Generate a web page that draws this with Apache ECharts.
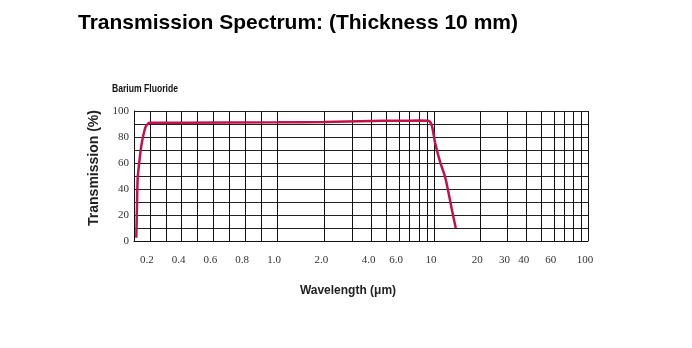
<!DOCTYPE html>
<html>
<head>
<meta charset="utf-8">
<script src="https://cdn.jsdelivr.net/npm/echarts@6/dist/echarts.min.js"></script>
<style>
  html, body { margin: 0; padding: 0; background: #fff; }
  #chart { width: 692px; height: 348px; }
</style>
</head>
<body>
<div id="chart"></div>
<script>
// Wavelength (µm) and transmission (%) of a 10 mm barium fluoride window
const wavelength = [0.1145, 0.119, 0.123, 0.131, 0.144, 0.159, 0.174, 0.19, 0.2, 0.4, 1.0, 2.0, 4.0, 6.0, 8.0, 9.2, 9.67, 10.15, 10.94, 11.79, 12.38, 13.02, 13.84];
const transmission = [2.5, 28, 48, 58, 71.5, 81.5, 88, 90.5, 91, 91, 91.3, 91.6, 92.3, 92.5, 92.6, 92.5, 89, 76, 61, 49.5, 38, 25, 10];

// Tick labels on the wavelength axis
const xTickValues = [0.2, 0.4, 0.6, 0.8, 1.0, 2.0, 4.0, 6.0, 10, 20, 30, 40, 60, 100];
const xTickText = ['0.2', '0.4', '0.6', '0.8', '1.0', '2.0', '4.0', '6.0', '10', '20', '30', '40', '60', '100'];

// Labelled transmission values
const yTickValues = [0, 20, 40, 60, 80, 100];

// Vertical rulings of the chart paper
const xRulings = [0.1, 0.2, 0.3, 0.4, 0.5, 0.6, 0.7, 0.8, 0.9, 1.0,
                  2, 3, 4, 5, 6, 7, 8, 9, 10,
                  20, 30, 40, 50, 60, 70, 80, 90, 100];

// Chart-paper wavelength scale: linear from 0.1 to 1 µm, logarithmic above.
function tOf(x) {
  if (x <= 1) return (x - 0.1) / 0.9 * 143;
  if (x <= 10) return 143 + Math.log10(x) * 157;
  return 300 + (Math.log10(x) - 1) * 154;
}

const curve = wavelength.map((w, i) => [tOf(w), transmission[i]]);
const serif = '"Liberation Serif", "DejaVu Serif", serif';
const sans = '"Liberation Sans", Arial, sans-serif';

const chart = echarts.init(document.getElementById('chart'));
chart.setOption({
  animation: false,
  backgroundColor: '#fff',
  title: {
    text: 'Transmission Spectrum: (Thickness 10 mm)',
    left: 73,
    top: 8,
    textStyle: { fontFamily: sans, fontWeight: 'bold', fontSize: 21, color: '#000' }
  },
  graphic: [{
    type: 'text',
    left: 112,
    top: 84,
    scaleX: 0.86,
    style: {
      text: 'Barium Fluoride',
      fontFamily: sans,
      fontWeight: 'bold',
      fontSize: 10,
      fill: '#111'
    }
  }],
  grid: { left: 134, right: 104, top: 111, bottom: 107, containLabel: false },
  xAxis: {
    type: 'value',
    min: 0,
    max: tOf(100),
    name: 'Wavelength (μm)',
    nameLocation: 'middle',
    nameGap: 44,
    nameTextStyle: { fontFamily: sans, fontWeight: 'bold', fontSize: 12, color: '#222', padding: [0, 26, 0, 0] },
    axisLine: { show: true, lineStyle: { color: '#111', width: 1 } },
    axisTick: { show: false },
    splitLine: { show: false },
    axisLabel: {
      customValues: xTickValues.map(tOf),
      margin: 14,
      padding: [0, 6, 0, 0],
      fontFamily: serif,
      fontSize: 11,
      color: '#333',
      formatter: function (v) {
        let best = 0, bd = Infinity;
        xTickValues.forEach((x, i) => {
          const d = Math.abs(tOf(x) - v);
          if (d < bd) { bd = d; best = i; }
        });
        return xTickText[best];
      }
    }
  },
  yAxis: {
    type: 'value',
    min: 0,
    max: 100,
    interval: 10,
    name: 'Transmission (%)',
    nameLocation: 'middle',
    nameGap: 32,
    nameTextStyle: { fontFamily: sans, fontWeight: 'bold', fontSize: 14, color: '#222', padding: [0, 0, 0, 16] },
    axisLine: { show: true, lineStyle: { color: '#111', width: 1 } },
    axisTick: { show: false },
    axisLabel: {
      margin: 5,
      fontFamily: serif,
      fontSize: 11,
      color: '#333',
      formatter: v => (yTickValues.indexOf(v) >= 0 ? String(v) : '')
    },
    splitLine: { show: true, lineStyle: { color: '#222', width: 1 } }
  },
  series: [
    {
      type: 'line',
      data: [],
      z: 1,
      silent: true,
      markLine: {
        silent: true,
        symbol: ['none', 'none'],
        label: { show: false },
        lineStyle: { color: '#111', width: 1, type: 'solid' },
        emphasis: { disabled: true },
        data: xRulings.map(v => ({ xAxis: tOf(v) }))
      }
    },
    {
      type: 'line',
      data: curve,
      z: 5,
      smooth: 0.3,
      showSymbol: false,
      lineStyle: { color: '#c2124a', width: 2.5 }
    }
  ]
});
</script>
</body>
</html>
